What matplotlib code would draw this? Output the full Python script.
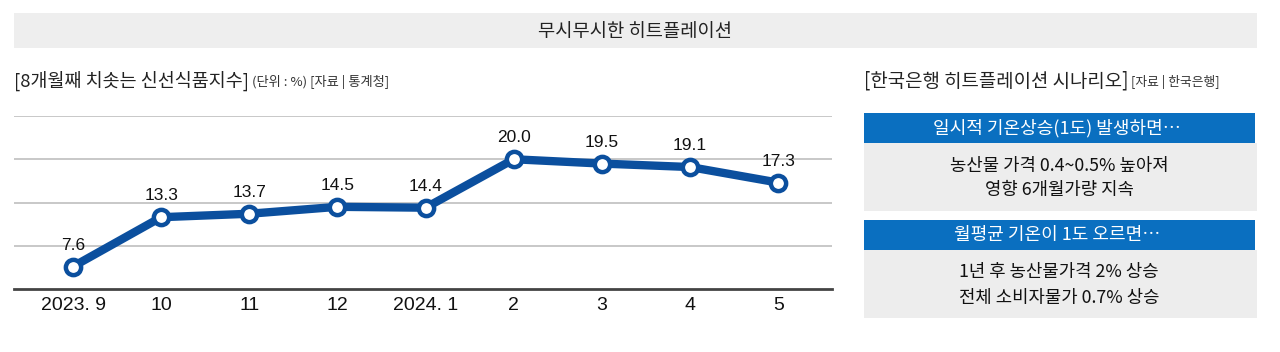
import matplotlib
matplotlib.use("Agg")
import matplotlib.pyplot as plt
from matplotlib.patches import Rectangle

# data
months = ["2023. 9", "10", "11", "12", "2024. 1", "2", "3", "4", "5"]
fresh_index = [7.6, 13.3, 13.7, 14.5, 14.4, 20.0, 19.5, 19.1, 17.3]
grid_levels = [10, 15, 20, 25]

title = "무시무시한 히트플레이션"
left_title = "[8개월째 치솟는 신선식품지수]"
left_note = "(단위 : %) [자료 | 통계청]"
right_title = "[한국은행 히트플레이션 시나리오]"
right_note = "[자료 | 한국은행]"
scenario_heads = ["일시적 기온상승(1도) 발생하면…", "월평균 기온이 1도 오르면…"]
scenario_bodies = ["농산물 가격 0.4~0.5% 높아져\n영향 6개월가량 지속",
                   "1년 후 농산물가격 2% 상승\n전체 소비자물가 0.7% 상승"]

KR = ["Noto Sans CJK KR", "DejaVu Sans"]
NUM = ["Liberation Sans Narrow", "Liberation Sans", "DejaVu Sans"]
LINE_BLUE = "#0b4f9e"
BOX_BLUE = "#0a6fc0"
GRAY = "#ededed"

W, H = 1280, 352
fig = plt.figure(figsize=(W / 100, H / 100), dpi=100)
fig.patch.set_facecolor("white")

# overlay in pixel coordinates for boxes and headings
ov = fig.add_axes([0, 0, 1, 1])
ov.set_xlim(0, W)
ov.set_ylim(H, 0)
ov.axis("off")

ov.add_patch(Rectangle((14, 13), 1243, 35, facecolor="#eeeeee", edgecolor="none"))
ov.text(635, 31, title, family=KR, fontsize=13.5, ha="center", va="center", color="#222222")

ov.text(14, 81, left_title, family=KR, fontsize=13.3, fontweight="medium", ha="left", va="center", color="#222222")
ov.text(252, 82, left_note, family=KR, fontsize=9.5, ha="left", va="center", color="#333333")

ov.text(864, 81, right_title, family=KR, fontsize=13.6, fontweight="medium", ha="left", va="center", color="#222222")
ov.text(1131, 82, right_note, family=KR, fontsize=9.2, ha="left", va="center", color="#333333")

box_tops = [113, 220]
for top, head, body in zip(box_tops, scenario_heads, scenario_bodies):
    ov.add_patch(Rectangle((864, top), 391, 30, facecolor=BOX_BLUE, edgecolor="none"))
    ov.add_patch(Rectangle((864, top + 30), 393, 68, facecolor=GRAY, edgecolor="none"))
    ov.text(1057, top + 15, head, family=KR, fontsize=13, ha="center", va="center", color="white")
    ov.text(1059, top + 65, body, family=KR, fontsize=12.8, ha="center", va="center",
            color="#111111", linespacing=1.5)

# line chart
ax = fig.add_axes([14 / W, (H - 289) / H, (832 - 14) / W, (289 - 116) / H])
ax.set_facecolor("none")
x = list(range(len(months)))
ax.set_xlim(-0.67, 8.61)
ax.set_ylim(5, 25)
for g in grid_levels:
    ax.axhline(g, color="#c4c4c4", lw=1.3, zorder=1)
ax.axhline(5, color="#444444", lw=2, zorder=1, clip_on=False)

ax.plot(x, fresh_index, color=LINE_BLUE, lw=6, zorder=3, solid_joinstyle="round",
        marker="o", markersize=11, markerfacecolor="white", markeredgecolor=LINE_BLUE,
        markeredgewidth=3.2)

for xi, v in zip(x, fresh_index):
    ax.annotate(f"{v:.1f}", (xi, v), xytext=(0, 10), textcoords="offset points",
                ha="center", va="bottom", family=NUM, fontsize=12.5, color="#111111", zorder=4)

ax.set_xticks(x)
ax.set_xticklabels(months, family=NUM, fontsize=14, color="#111111")
ax.tick_params(axis="x", length=0, pad=6)
ax.set_yticks([])
for s in ax.spines.values():
    s.set_visible(False)

fig.savefig("out.png", dpi=100)
